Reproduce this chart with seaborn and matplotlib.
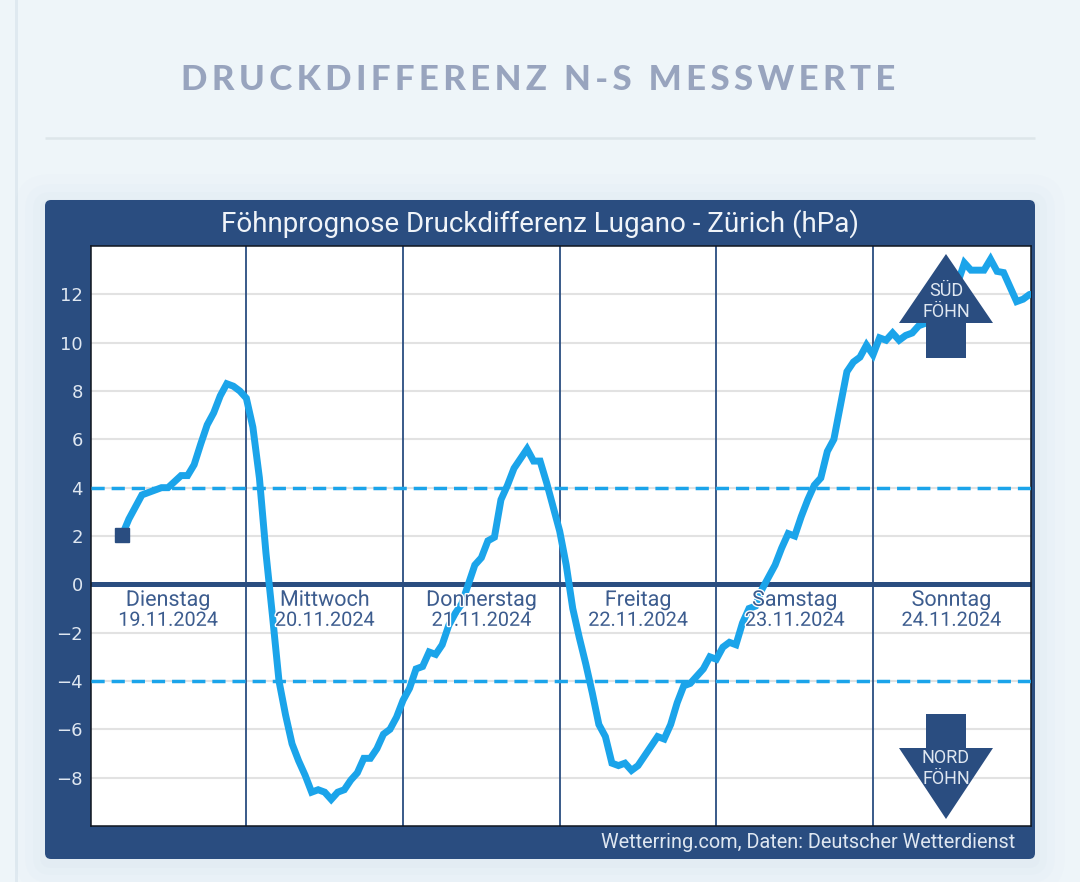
import matplotlib
matplotlib.use("Agg")
import matplotlib.pyplot as plt
from matplotlib.patches import FancyBboxPatch, Polygon
import matplotlib.patheffects as pe
import pandas as pd
import seaborn as sns

# Hourly pressure difference Lugano - Zürich, hours counted from Tuesday 00:00
start_hour = 5
pressure_hpa = [
    2.05, 2.7, 3.2, 3.7, 3.8, 3.9, 4.0, 4.0, 4.25, 4.5, 4.5, 4.95, 5.8, 6.6, 7.1, 7.8,
    8.3, 8.2, 8.0, 7.7, 6.5, 4.4, 1.3, -1.3, -4.0, -5.4, -6.6, -7.3, -7.9, -8.6,
    -8.5, -8.6, -8.9, -8.6, -8.5, -8.1, -7.8, -7.2, -7.2, -6.8, -6.2, -6.0, -5.5,
    -4.8, -4.3, -3.5, -3.4, -2.8, -2.9, -2.5, -1.7, -1.2, -0.8, 0.0, 0.8, 1.1, 1.8,
    1.95, 3.5, 4.1, 4.8, 5.2, 5.6, 5.1, 5.1, 4.2, 3.2, 2.2, 0.8, -1.0, -2.2, -3.3,
    -4.5, -5.8, -6.3, -7.4, -7.5, -7.4, -7.7, -7.5, -7.1, -6.7, -6.3, -6.4, -5.8,
    -4.9, -4.2, -4.1, -3.8, -3.5, -3.0, -3.1, -2.6, -2.4, -2.5, -1.6, -1.0, -0.9,
    -0.2, 0.3, 0.8, 1.5, 2.1, 2.0, 2.8, 3.5, 4.1, 4.4, 5.5, 6.0, 7.4, 8.8, 9.2, 9.4,
    9.9, 9.5, 10.2, 10.1, 10.4, 10.1, 10.3, 10.4, 10.7, 10.8, 11.0, 11.3, 11.7, 12.1,
    12.5, 13.3, 13.0, 13.0, 13.0, 13.45, 12.95, 12.9, 12.3, 11.7, 11.8, 12.0,
]
hours = list(range(start_hour, start_hour + len(pressure_hpa)))
day_names = ["Dienstag", "Mittwoch", "Donnerstag", "Freitag", "Samstag", "Sonntag"]
day_dates = ["19.11.2024", "20.11.2024", "21.11.2024", "22.11.2024", "23.11.2024", "24.11.2024"]
y_ticks = [-8, -6, -4, -2, 0, 2, 4, 6, 8, 10, 12]
foehn_thresholds = [4, -4]

PAGE = "#eef5f9"
NAVY = "#2a4d80"
BLUE = "#1ba4ea"
PALE = "#dfe7f1"
W, H = 1080, 882

sns.set_theme(style="white")
plt.rcParams["font.family"] = ["Roboto", "DejaVu Sans"]

fig = plt.figure(figsize=(W / 100, H / 100), dpi=100, facecolor=PAGE)

# Page furniture in pixel coordinates
page = fig.add_axes([0, 0, 1, 1], zorder=0)
page.set_xlim(0, W)
page.set_ylim(H, 0)
page.axis("off")
page.axvspan(15, 18, color="#dfe9f0", lw=0)
page.plot([45, 1035], [138, 138], color="#dde6ea", lw=1.8, solid_capstyle="butt")
for grow, alpha in [(30, 0.035), (20, 0.045), (12, 0.055), (5, 0.07)]:
    page.add_patch(FancyBboxPatch((45 - grow, 204 - grow), 990 + 2 * grow, 659 + 2 * grow,
                                  boxstyle=f"round,pad=0,rounding_size={grow + 6}",
                                  fc="#bcd0e4", ec="none", alpha=alpha))
page.add_patch(FancyBboxPatch((45, 200), 990, 659, boxstyle="round,pad=0,rounding_size=6",
                              fc=NAVY, ec="none"))
page.text(538, 80, "\u2009".join("DRUCKDIFFERENZ N-S MESSWERTE"), family=["Lato", "DejaVu Sans"],
          fontsize=25, fontweight="black", color="#98a4be", ha="center", va="center")
page.text(540, 224, "Föhnprognose Druckdifferenz Lugano - Zürich (hPa)", fontsize=20,
          color="#f0f4f9", ha="center", va="center")
page.text(1015, 843, "Wetterring.com, Daten: Deutscher Wetterdienst", fontsize=14.3,
          color=PALE, ha="right", va="center")

# Chart
ax = fig.add_axes([91 / W, 1 - 826 / H, 940 / W, 580 / H], zorder=1, facecolor="white")
df = pd.DataFrame({"hour": hours, "hPa": pressure_hpa})
for tick in y_ticks:
    if tick != 0:
        ax.axhline(tick, color="#e2e2e2", lw=1.5, zorder=1)
for d in range(1, len(day_names)):
    ax.axvline(24 * d, color=NAVY, lw=1.3, zorder=2)
ax.axhline(0, color=NAVY, lw=3.6, zorder=2)
for level in foehn_thresholds:
    ax.axhline(level, color=BLUE, lw=2.5, ls=(0, (3.8, 2.0)), zorder=3)
sns.lineplot(data=df, x="hour", y="hPa", ax=ax, color=BLUE, lw=5, zorder=4, errorbar=None,
             solid_joinstyle="miter")
ax.plot(hours[0], pressure_hpa[0], marker="s", ms=9.5, color=NAVY, zorder=5, ls="none")

halo = [pe.withStroke(linewidth=2, foreground="white")]
for d, (name, date) in enumerate(zip(day_names, day_dates)):
    mid = 12 + 24 * d
    ax.text(mid, -0.66, name, fontsize=15.5, color="#3c5c8e", ha="center", va="center",
            zorder=6, path_effects=halo)
    ax.text(mid, -1.49, date, fontsize=14.3, color="#3c5c8e", ha="center", va="center",
            zorder=6, path_effects=halo)

ax.set_xlim(0.2, 144.2)
ax.set_ylim(-10, 14)
ax.set_xticks([])
ax.set_yticks(y_ticks)
ax.set_xlabel("")
ax.set_ylabel("")
ax.tick_params(axis="y", length=0, pad=6, labelsize=13, labelcolor=PALE)
for label in ax.get_yticklabels():
    label.set_family("DejaVu Sans")
for spine in ax.spines.values():
    spine.set_visible(True)
    spine.set_color("#10161f")
    spine.set_linewidth(1.1)

# Föhn direction arrows drawn above the chart
top = fig.add_axes([0, 0, 1, 1], zorder=2, facecolor="none")
top.set_xlim(0, W)
top.set_ylim(H, 0)
top.axis("off")
up_arrow = [(946, 254), (993, 323), (966, 323), (966, 358), (926, 358), (926, 323), (899, 323)]
down_arrow = [(926, 714), (966, 714), (966, 748), (993, 748), (946, 819), (899, 748), (926, 748)]
top.add_patch(Polygon(up_arrow, closed=True, fc=NAVY, ec="none"))
top.add_patch(Polygon(down_arrow, closed=True, fc=NAVY, ec="none"))
for text, y in [("SÜD", 291), ("FÖHN", 312), ("NORD", 758), ("FÖHN", 779)]:
    top.text(946, y, text, fontsize=13, color=PALE, ha="center", va="center")

fig.savefig("out.png", dpi=100, facecolor=PAGE)
